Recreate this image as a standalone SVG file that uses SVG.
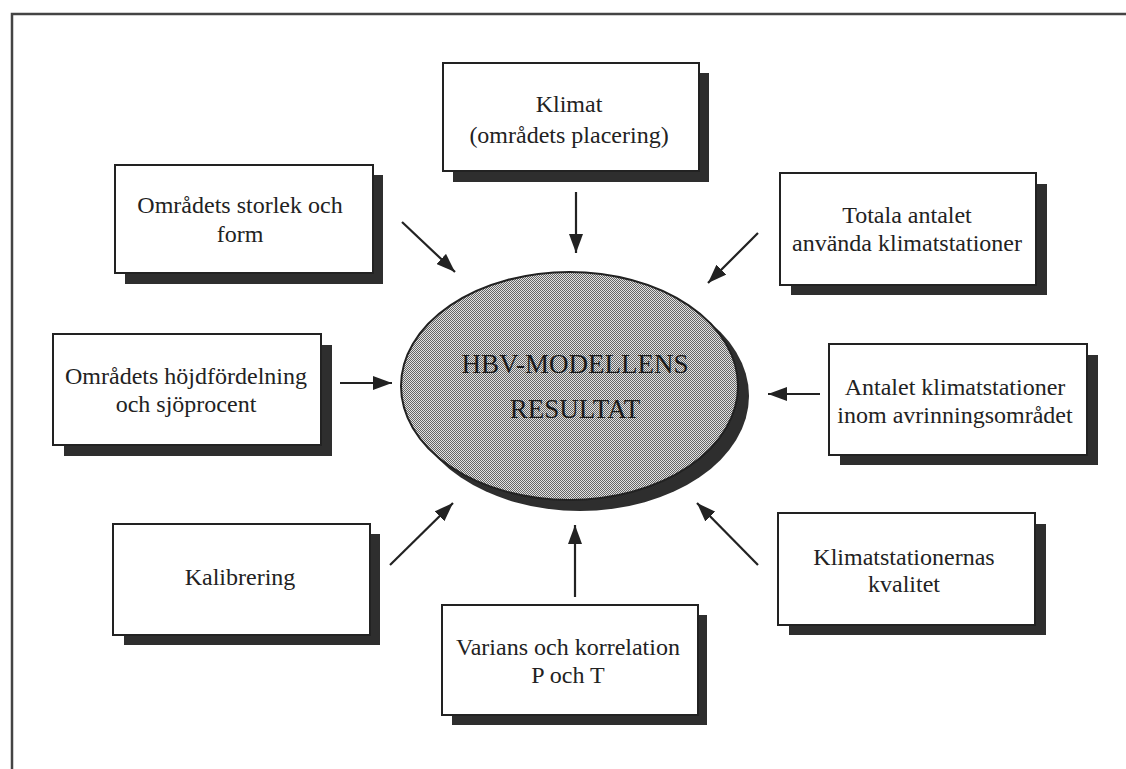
<svg xmlns="http://www.w3.org/2000/svg" width="1126" height="769" viewBox="0 0 1126 769">
<style>
.frame{fill:none;stroke:#444;stroke-width:2.5}
.shadow{fill:#2e2e2e}
.box{fill:#fff;stroke:#222;stroke-width:2}
.t{font-family:"Liberation Serif","Times New Roman",serif;font-size:24px;fill:#222;text-anchor:middle}
.big{font-family:"Liberation Serif","Times New Roman",serif;font-size:27px;fill:#1a1a1a;text-anchor:middle}
.arr{stroke:#222;stroke-width:2.2;fill:none;marker-end:url(#ah)}
</style>
<defs>
<pattern id="dots" width="2" height="2" patternUnits="userSpaceOnUse">
<rect width="2" height="2" fill="#e2e2e2"/>
<rect x="0" y="0" width="1" height="1" fill="#666"/>
<rect x="1" y="1" width="1" height="1" fill="#666"/>
</pattern>
<marker id="ah" markerUnits="userSpaceOnUse" markerWidth="20" markerHeight="14" refX="19" refY="7" orient="auto">
<path d="M0,0 L19,7 L0,14 z" fill="#222"/>
</marker>
</defs>
<rect width="1126" height="769" fill="#fff"/>
<path class="frame" d="M12,769 L12,14 L1126,14"/>

<g id="center">
<ellipse class="shadow" cx="580" cy="396" rx="169" ry="115"/>
<ellipse cx="569.5" cy="386" rx="168.5" ry="114" fill="url(#dots)" stroke="#222" stroke-width="2"/>
<text class="big" x="575" y="373">HBV-MODELLENS</text>
<text class="big" x="575" y="418">RESULTAT</text>
</g>

<g id="klimat">
<rect class="shadow" x="453" y="73" width="256" height="109"/>
<rect class="box" x="443" y="63" width="256" height="108"/>
<text class="t" x="569" y="112">Klimat</text>
<text class="t" x="569" y="143">(områdets placering)</text>
</g>

<g id="storlek">
<rect class="shadow" x="125" y="175" width="258" height="109"/>
<rect class="box" x="115" y="165" width="258" height="108"/>
<text class="t" x="240" y="213">Områdets storlek och</text>
<text class="t" x="240" y="242">form</text>
</g>

<g id="totala">
<rect class="shadow" x="791" y="184" width="256" height="111"/>
<rect class="box" x="780" y="173" width="256" height="112"/>
<text class="t" x="907" y="223">Totala antalet</text>
<text class="t" x="907" y="251">använda klimatstationer</text>
</g>

<g id="hojd">
<rect class="shadow" x="64" y="345" width="268" height="111"/>
<rect class="box" x="53" y="334" width="268" height="111"/>
<text class="t" x="186" y="384">Områdets höjdfördelning</text>
<text class="t" x="186" y="412">och sjöprocent</text>
</g>

<g id="antalet">
<rect class="shadow" x="840" y="355" width="258" height="110"/>
<rect class="box" x="829" y="344" width="258" height="111"/>
<text class="t" x="955" y="395">Antalet klimatstationer</text>
<text class="t" x="955" y="423">inom avrinningsområdet</text>
</g>

<g id="kalibrering">
<rect class="shadow" x="124" y="534" width="256" height="111"/>
<rect class="box" x="113" y="524" width="257" height="111"/>
<text class="t" x="240" y="585">Kalibrering</text>
</g>

<g id="varians">
<rect class="shadow" x="452" y="615" width="255" height="110"/>
<rect class="box" x="442" y="605" width="256" height="110"/>
<text class="t" x="568" y="655">Varians och korrelation</text>
<text class="t" x="568" y="683">P och T</text>
</g>

<g id="kvalitet">
<rect class="shadow" x="789" y="524" width="257" height="111"/>
<rect class="box" x="778" y="513" width="257" height="112"/>
<text class="t" x="904" y="565">Klimatstationernas</text>
<text class="t" x="904" y="592">kvalitet</text>
</g>

<g id="connectors">
<line class="arr" x1="576" y1="192" x2="576" y2="253"/>
<line class="arr" x1="402" y1="222" x2="455" y2="272"/>
<line class="arr" x1="758" y1="233" x2="708" y2="283"/>
<line class="arr" x1="340" y1="383" x2="392" y2="383"/>
<line class="arr" x1="820" y1="394" x2="768" y2="394"/>
<line class="arr" x1="390" y1="565" x2="453" y2="503"/>
<line class="arr" x1="575" y1="597" x2="575" y2="525"/>
<line class="arr" x1="758" y1="565" x2="697" y2="503"/>
</g>
</svg>
